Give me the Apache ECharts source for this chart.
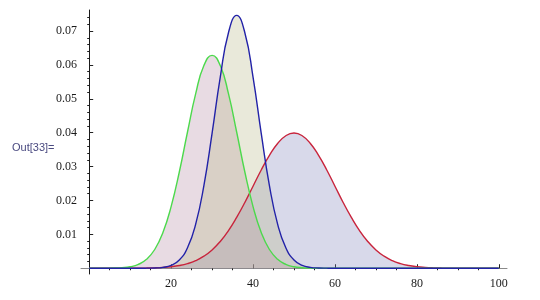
<!DOCTYPE html>
<html>
<head>
<meta charset="utf-8">
<script src="https://cdn.jsdelivr.net/npm/echarts@6/dist/echarts.min.js"></script>
<style>
html,body{margin:0;padding:0;background:#fff;}
#chart{width:540px;height:300px;}
</style>
</head>
<body>
<div id="chart"></div>
<script>
var xValues = [0,2,4,6,8,10,12,14,16,18,20,22,24,26,28,30,32,34,36,38,40,42,44,46,48,50,52,54,56,58,60,62,64,66,68,70,72,74,76,78,80,82,84,86,88,90,92,94,96,98,100];
var greenValues = [0,0,0.00001,0.00005,0.00016,0.00044,0.00113,0.00263,0.00553,0.01054,0.0182,0.0284,0.0402,0.0515,0.0598,0.0628,0.0598,0.0515,0.0402,0.0284,0.0182,0.01054,0.00553,0.00263,0.00113,0.00044,0.00016,0.00005,0.00001,0,0,0,0,0,0,0,0,0,0,0,0,0,0,0,0,0,0,0,0,0,0];
var blueValues = [0,0,0,0,0,0,0,0.00002,0.00007,0.00026,0.00085,0.00243,0.00603,0.0130,0.0244,0.0398,0.0564,0.0695,0.0746,0.0695,0.0564,0.0398,0.0244,0.0130,0.00603,0.00243,0.00085,0.00026,0.00007,0.00002,0,0,0,0,0,0,0,0,0,0,0,0,0,0,0,0,0,0,0,0,0];
var redValues = [0,0,0,0,0,0.00001,0.00003,0.00006,0.00012,0.00024,0.00044,0.00079,0.00136,0.00224,0.00355,0.0054,0.0079,0.0111,0.0150,0.0194,0.0242,0.0290,0.0333,0.0368,0.0391,0.0399,0.0391,0.0368,0.0333,0.0290,0.0242,0.0194,0.0150,0.0111,0.0079,0.0054,0.00355,0.00224,0.00136,0.00079,0.00044,0.00024,0.00012,0.00006,0.00003,0.00001,0,0,0,0,0];
var xMajorTicks = [20,40,60,80,100];
var xMinorTicks = [5,10,15,25,30,35,45,50,55,65,70,75,85,90,95];
var yMajorTicks = [0.01,0.02,0.03,0.04,0.05,0.06,0.07];
var yMinorTicks = [0.002,0.004,0.006,0.008,0.012,0.014,0.016,0.018,0.022,0.024,0.026,0.028,0.032,0.034,0.036,0.038,0.042,0.044,0.046,0.048,0.052,0.054,0.056,0.058,0.062,0.064,0.066,0.068,0.072,0.074];
var outLabel = 'Out[33]=';

function pairs(ys){ return xValues.map(function(x,i){ return [x, ys[i]]; }); }

var chart = echarts.init(document.getElementById('chart'), null, {renderer:'canvas'});
var labelFont = {fontFamily:'Liberation Serif', fontSize:12, color:'#1a1a1a'};
function lineSeries(name, ys, lineColor, fill){
  return {
    name:name, type:'line', data:pairs(ys), xAxisIndex:0, yAxisIndex:0,
    showSymbol:false, smooth:true, animation:false,
    lineStyle:{color:lineColor, width:1.4},
    areaStyle:{color:fill, opacity:1},
    emphasis:{disabled:true}
  };
}
chart.setOption({
  animation:false,
  backgroundColor:'#ffffff',
  title:{text:outLabel, left:7, top:137, textStyle:{fontFamily:'Liberation Sans', fontSize:11, fontWeight:'normal', color:'#4a4a80'}},
  grid:{left:81, right:33, top:10, bottom:26, containLabel:false, outerBoundsMode:'none'},
  xAxis:[
    {type:'value', min:-2, max:102,
     axisLine:{show:true, onZero:true, lineStyle:{color:'#8a8a8a', width:1}},
     axisTick:{show:true, inside:true, length:4, customValues:xMajorTicks, lineStyle:{color:'#222'}},
     axisLabel:{show:true, margin:4, customValues:xMajorTicks, fontFamily:labelFont.fontFamily, fontSize:12, color:labelFont.color},
     splitLine:{show:false}},
    {type:'value', min:-2, max:102,
     axisLine:{show:true, onZero:true, lineStyle:{color:'#8a8a8a', opacity:0}},
     axisTick:{show:true, inside:true, length:2, customValues:xMinorTicks, lineStyle:{color:'#222'}},
     axisLabel:{show:false}, splitLine:{show:false}}
  ],
  yAxis:[
    {type:'value', min:-0.0017, max:0.0762,
     axisLine:{show:true, onZero:true, lineStyle:{color:'#1a1a1a', width:1}},
     axisTick:{show:true, inside:true, length:4, customValues:yMajorTicks, lineStyle:{color:'#222'}},
     axisLabel:{show:true, margin:4, customValues:yMajorTicks, formatter:function(v){return Number(v).toFixed(2);}, fontFamily:labelFont.fontFamily, fontSize:12, color:labelFont.color},
     splitLine:{show:false}},
    {type:'value', min:-0.0017, max:0.0762,
     axisLine:{show:true, onZero:true, lineStyle:{color:'#1a1a1a', opacity:0}},
     axisTick:{show:true, inside:true, length:2, customValues:yMinorTicks, lineStyle:{color:'#222'}},
     axisLabel:{show:false}, splitLine:{show:false}}
  ],
  series:[
    lineSeries('red', redValues, '#c8243c', 'rgba(125,128,185,0.3)'),
    lineSeries('green', greenValues, '#4cd94c', 'rgba(178,135,162,0.3)'),
    lineSeries('blue', blueValues, '#2222a8', 'rgba(182,182,132,0.3)')
  ]
});
</script>
</body>
</html>
